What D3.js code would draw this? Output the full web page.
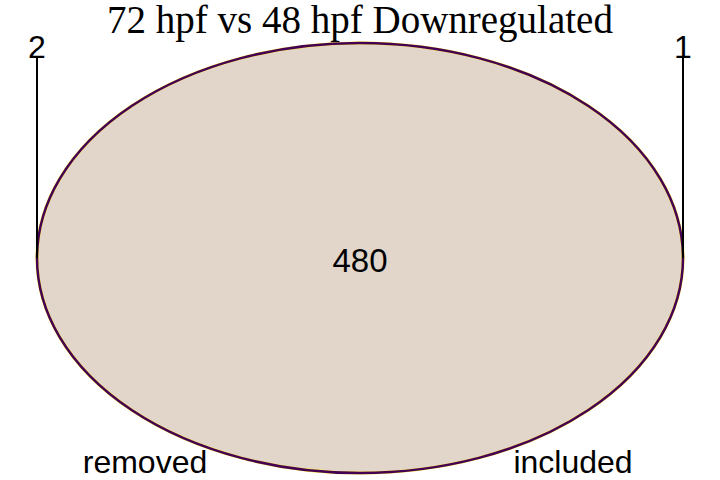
<!DOCTYPE html>
<html lang="en">
<head>
<meta charset="utf-8">
<script src="https://cdn.jsdelivr.net/npm/d3@7"></script>
<style>
  body { margin: 0; background: white; }
</style>
</head>
<body>
<script>
// data
var setNames = ["removed", "included"];
var setOnly = [2, 1];          // labels drawn at the top of each set
var overlap = 480;
var title = "72 hpf vs 48 hpf Downregulated";

var w = 720, h = 480;
var svg = d3.select("body").append("svg").attr("width", w).attr("height", h);

// unit coords -> pixels
var x = d3.scaleLinear().domain([-1, 1]).range([37, 683]);
var y = d3.scaleLinear().domain([-1, 1]).range([43, 473]);

// two identical sets: draw both ellipses on top of each other
var colors = ["#FDE725", "#440154"];
svg.selectAll("ellipse").data(setNames).enter().append("ellipse")
    .attr("cx", x(0)).attr("cy", y(0))
    .attr("rx", x(1) - x(0)).attr("ry", y(1) - y(0))
    .attr("fill", function(d, i) { return i == 0 ? "#E2D6CA" : "none"; })
    .attr("stroke", function(d, i) { return colors[i]; })
    .attr("stroke-width", function(d, i) { return i == 0 ? 3 : 2.5; });

svg.append("text")
    .attr("x", x(0)).attr("y", y(0) + 14)
    .attr("text-anchor", "middle")
    .attr("font-family", "Liberation Sans, Arial, sans-serif")
    .attr("font-size", "33px")
    .text(overlap);

// leader lines with counts
var sides = [-1, 1];
svg.selectAll("line.lead").data(setOnly).enter().append("line")
    .attr("class", "lead")
    .attr("x1", function(d, i) { return x(sides[i]); })
    .attr("x2", function(d, i) { return x(sides[i]); })
    .attr("y1", 58).attr("y2", y(0))
    .attr("stroke", "black").attr("stroke-width", 2);

svg.selectAll("text.cnt").data(setOnly).enter().append("text")
    .attr("class", "cnt")
    .attr("x", function(d, i) { return x(sides[i]); })
    .attr("y", 58)
    .attr("text-anchor", "middle")
    .attr("font-family", "Liberation Sans, Arial, sans-serif")
    .attr("font-size", "32px")
    .text(function(d) { return d; });

// set names along the bottom
var nameX = [145, 573];
svg.selectAll("text.name").data(setNames).enter().append("text")
    .attr("class", "name")
    .attr("x", function(d, i) { return nameX[i]; })
    .attr("y", 473)
    .attr("text-anchor", "middle")
    .attr("font-family", "Liberation Sans, Arial, sans-serif")
    .attr("font-size", "32px")
    .text(function(d) { return d; });

svg.append("text")
    .attr("x", w / 2).attr("y", 33)
    .attr("text-anchor", "middle")
    .attr("font-family", "Liberation Serif, Times New Roman, serif")
    .attr("font-size", "39px")
    .text(title);
</script>
</body>
</html>
